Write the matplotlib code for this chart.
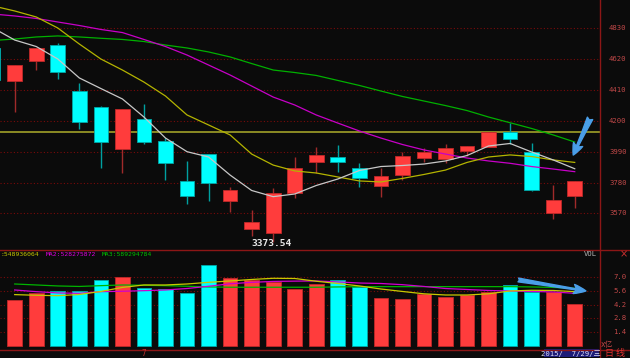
import matplotlib
matplotlib.use('Agg')
import matplotlib.pyplot as plt
import matplotlib.transforms as mtrans
import numpy as np

plt.rcParams['font.family'] = ['DejaVu Sans', 'Noto Sans CJK SC']

# ---------------- data (daily candles, index -1 partially off-screen) ----------------
idx = list(range(-1, 27))
opens  = [4694, 4471, 4607, 4716, 4403, 4292, 4010, 4213, 4061, 3793, 3974, 3654, 3464, 3435,
          3711, 3918, 3956, 3877, 3759, 3831, 3949, 3940, 3995, 4024, 4126, 3986, 3571, 3690]
closes = [4478, 4580, 4694, 4533, 4194, 4056, 4279, 4056, 3915, 3688, 3779, 3727, 3509, 3707,
          3877, 3968, 3922, 3809, 3825, 3961, 3990, 4017, 4029, 4126, 4074, 3729, 3661, 3791]
highs  = [4694, 4580, 4694, 4728, 4460, 4301, 4279, 4315, 4081, 3927, 3974, 3748, 3593, 3741,
          3956, 4024, 4036, 3911, 3877, 3990, 4013, 4040, 4029, 4126, 4187, 4051, 3763, 3791]
lows   = [4478, 4262, 4546, 4483, 4142, 3877, 3847, 4042, 3797, 3632, 3654, 3582, 3418, 3373.54,
          3673, 3848, 3850, 3748, 3684, 3797, 3922, 3911, 3961, 4024, 4042, 3722, 3532, 3609]

ma5  = [4832, 4750, 4706, 4621, 4492, 4420, 4349, 4226, 4083, 3990, 3954, 3831, 3726, 3684,
        3702, 3760, 3804, 3862, 3889, 3896, 3906, 3927, 3964, 4029, 4046, 3988, 3934, 3874]
ma10 = [4982, 4948, 4907, 4832, 4723, 4621, 4546, 4464, 4369, 4240, 4172, 4104, 3974, 3899,
        3859, 3845, 3818, 3791, 3784, 3808, 3835, 3865, 3917, 3954, 3968, 3957, 3934, 3917]
ma20 = [4927, 4914, 4897, 4873, 4849, 4822, 4801, 4754, 4706, 4648, 4580, 4512, 4437, 4362,
        4308, 4240, 4185, 4131, 4083, 4039, 4002, 3974, 3947, 3927, 3911, 3889, 3872, 3854]
ma60 = [4747, 4757, 4771, 4778, 4771, 4762, 4754, 4740, 4716, 4696, 4669, 4635, 4590, 4546,
        4529, 4509, 4475, 4441, 4403, 4366, 4335, 4304, 4270, 4226, 4187, 4148, 4104, 4056]

vol_idx = list(range(0, 27))
volume = [4.68, 5.36, 5.63, 5.60, 6.69, 7.06, 5.87, 5.77, 5.43, 8.25, 6.92, 6.72, 6.55, 5.84,
          6.34, 6.69, 5.97, 4.89, 4.75, 5.33, 5.02, 5.16, 5.53, 6.21, 5.53, 5.53, 4.31]
vma1 = [5.23, 5.16, 5.12, 5.24, 5.55, 5.96, 6.21, 6.21, 6.31, 6.48, 6.62, 6.77, 6.89, 6.87,
        6.59, 6.36, 6.11, 5.80, 5.55, 5.31, 5.19, 5.19, 5.31, 5.60, 5.67, 5.65, 5.53]
vma2 = [5.70, 5.53, 5.40, 5.36, 5.53, 5.57, 5.63, 5.70, 5.85, 6.08, 6.33, 6.48, 6.57, 6.60,
        6.62, 6.52, 6.41, 6.36, 6.24, 6.06, 5.85, 5.75, 5.65, 5.60, 5.55, 5.50, 5.36]
vma3 = [6.31, 6.21, 6.11, 6.06, 6.14, 6.21, 6.18, 6.14, 6.08, 6.01, 5.98, 5.98, 5.98, 5.98,
        5.98, 6.01, 6.04, 6.04, 6.04, 6.04, 6.04, 6.04, 6.04, 6.04, 6.01, 5.96, 5.87]

price_ticks = [4830, 4620, 4410, 4200, 3990, 3780, 3570]
vol_ticks = [7.0, 5.6, 4.2, 2.8, 1.4]
ref_level = 4126
low_label = "3373.54"
low_index = 12
vol_legend = [":548936064", "MA2:528275872", "MA3:589294784"]
date_text = "2015/  7/29/三"
month_mark = "7"
month_index = 6

# ---------------- style ----------------
BG = '#0b0b0b'
RED = '#ff3c3c'; RED_E = '#c02828'; RED_W = '#a02a2a'
CYAN = '#00ffff'; CYAN_E = '#00a8a8'; CYAN_W = '#00a0a0'
FRAME = '#8c1616'
GRID = '#7a0a0a'
LBL = '#c04848'

W, H = 630, 358
fig = plt.figure(figsize=(6.3, 3.58), dpi=100, facecolor=BG)

def fx(px):
    return px / W

def fy(py):
    return 1 - py / H

ax = fig.add_axes([0, fy(249), fx(599.5), 249 / H], facecolor=BG)
axv = fig.add_axes([0, fy(349), fx(599.5), 100 / H], facecolor=BG)

x0, dx = 14.7, 21.54
xlim = (-x0 / dx, (599.5 - x0) / dx)
for a in (ax, axv):
    a.set_xlim(*xlim)
    for s in a.spines.values():
        s.set_visible(False)
    a.set_xticks([]); a.set_yticks([])

ax.set_ylim(5022.6 - 6.807 * 249, 5022.6)
axv.set_ylim(-0.305, 9.87)

# grids
for t in price_ticks:
    ax.axhline(t, color=GRID, lw=0.8, ls=(0, (1, 2)), zorder=0)
for t in vol_ticks:
    axv.axhline(t, color=GRID, lw=0.8, ls=(0, (1, 2)), zorder=0)

# reference horizontal line
ax.axhline(ref_level, color='#a0a028', lw=1.2, zorder=1)

# candles
op = np.array(opens, float); cl = np.array(closes, float)
up = cl >= op
fill = [RED if u else CYAN for u in up]
edge = [RED_E if u else CYAN_E for u in up]
wick = [RED_W if u else CYAN_W for u in up]
ax.vlines(idx, lows, highs, colors=wick, lw=1.0, zorder=2)
ax.bar(idx, np.abs(cl - op), bottom=np.minimum(op, cl), width=0.68,
       color=fill, edgecolor=edge, linewidth=0.6, zorder=3)

# moving averages
ax.plot(idx, ma60, color='#00b000', lw=0.9, zorder=4)
ax.plot(idx, ma20, color='#c800c8', lw=0.9, zorder=4)
ax.plot(idx, ma10, color='#b4b400', lw=0.9, zorder=4)
ax.plot(idx, ma5, color='#c8c8c8', lw=0.9, zorder=4)

# low label
ax.annotate(low_label, xy=(low_index, lows[low_index + 1]), xytext=(-1, -1),
            textcoords='offset points', ha='center', va='center',
            color='#e8e8e8', fontsize=6.8, fontweight='bold', family='DejaVu Sans Mono',
            annotation_clip=False, zorder=6)

# arrow main
ax.annotate('', xy=(25.93, 3967), xytext=(26.71, 4217),
            arrowprops=dict(arrowstyle='fancy,head_length=0.7,head_width=0.6,tail_width=0.35',
                            color='#4a9ee8', mutation_scale=12, shrinkA=0, shrinkB=0),
            annotation_clip=False, zorder=7)

# volume bars
vu = [up[i + 1] for i in range(len(vol_idx))]
axv.bar(vol_idx, volume, width=0.68,
        color=[RED if u else CYAN for u in vu],
        edgecolor=[RED_E if u else CYAN_E for u in vu], linewidth=0.6, zorder=2)
axv.plot(vol_idx, vma3, color='#00b400', lw=0.9, zorder=4)
axv.plot(vol_idx, vma2, color='#d000d0', lw=0.9, zorder=4)
axv.plot(vol_idx, vma1, color='#c8c800', lw=0.9, zorder=4)

axv.annotate('', xy=(26.52, 5.60), xytext=(23.38, 6.72),
             arrowprops=dict(arrowstyle='fancy,head_length=0.8,head_width=0.6,tail_width=0.25',
                             color='#4a9ee8', mutation_scale=11, shrinkA=0, shrinkB=0),
             annotation_clip=False, zorder=7)

# right labels
tr_p = mtrans.blended_transform_factory(fig.transFigure, ax.transData)
for t in price_ticks:
    fig.text(fx(626.5), t, str(t), transform=tr_p, ha='right', va='center',
             color=LBL, fontsize=5.2, family='DejaVu Sans Mono')
tr_v = mtrans.blended_transform_factory(fig.transFigure, axv.transData)
for t in vol_ticks:
    fig.text(fx(626.5), t, f"{t:.1f}", transform=tr_v, ha='right', va='center',
             color=LBL, fontsize=5.2, family='DejaVu Sans Mono')
fig.text(fx(600.5), fy(344), "x亿", ha='left', va='center', color=LBL, fontsize=5.5,
         family=['DejaVu Sans Mono', 'Noto Sans CJK SC'])

# volume legend
cols = ['#c8c800', '#e000e0', '#00c000']
xs = [0.5, 45.5, 102]
for s, c, xp in zip(vol_legend, cols, xs):
    fig.text(fx(xp), fy(254.5), s, ha='left', va='center', color=c, fontsize=4.6,
             family='DejaVu Sans Mono')
fig.text(fx(597), fy(254.5), "VOL", ha='right', va='center', color='#b8b8b8', fontsize=5.2,
         family='DejaVu Sans Mono')
fig.text(fx(623.5), fy(254.5), "×", ha='center', va='center', color='#d03030', fontsize=7)

# frame lines
fig.add_artist(plt.Line2D([fx(599.5), fx(599.5)], [0, 1], color=FRAME, lw=1.0))
fig.add_artist(plt.Line2D([0, 1], [fy(249.5), fy(249.5)], color=FRAME, lw=1.0))
fig.add_artist(plt.Line2D([0, 1], [fy(349.5), fy(349.5)], color=FRAME, lw=1.0))

# bottom strip
tr_b = mtrans.blended_transform_factory(axv.transData, fig.transFigure)
fig.text(month_index, fy(354), month_mark, transform=tr_b, ha='center', va='center',
         color='#c03030', fontsize=5.5, family='DejaVu Sans Mono')
fig.patches.append(plt.Rectangle((fx(543.5), fy(357)), fx(55.5), (8 / H),
                                 transform=fig.transFigure, facecolor='#1c1c78',
                                 edgecolor='none', zorder=1))
fig.text(fx(571), fy(353.2), date_text, ha='center', va='center', color='#d8d8f0',
         fontsize=5.2, family=['DejaVu Sans Mono', 'Noto Sans CJK SC'], zorder=2)
fig.text(fx(615), fy(353.5), "日 线", ha='center', va='center', color='#e03030',
         fontsize=6.5, family=['Noto Sans CJK SC', 'DejaVu Sans'])

fig.savefig('out.png', dpi=100, facecolor=BG)
